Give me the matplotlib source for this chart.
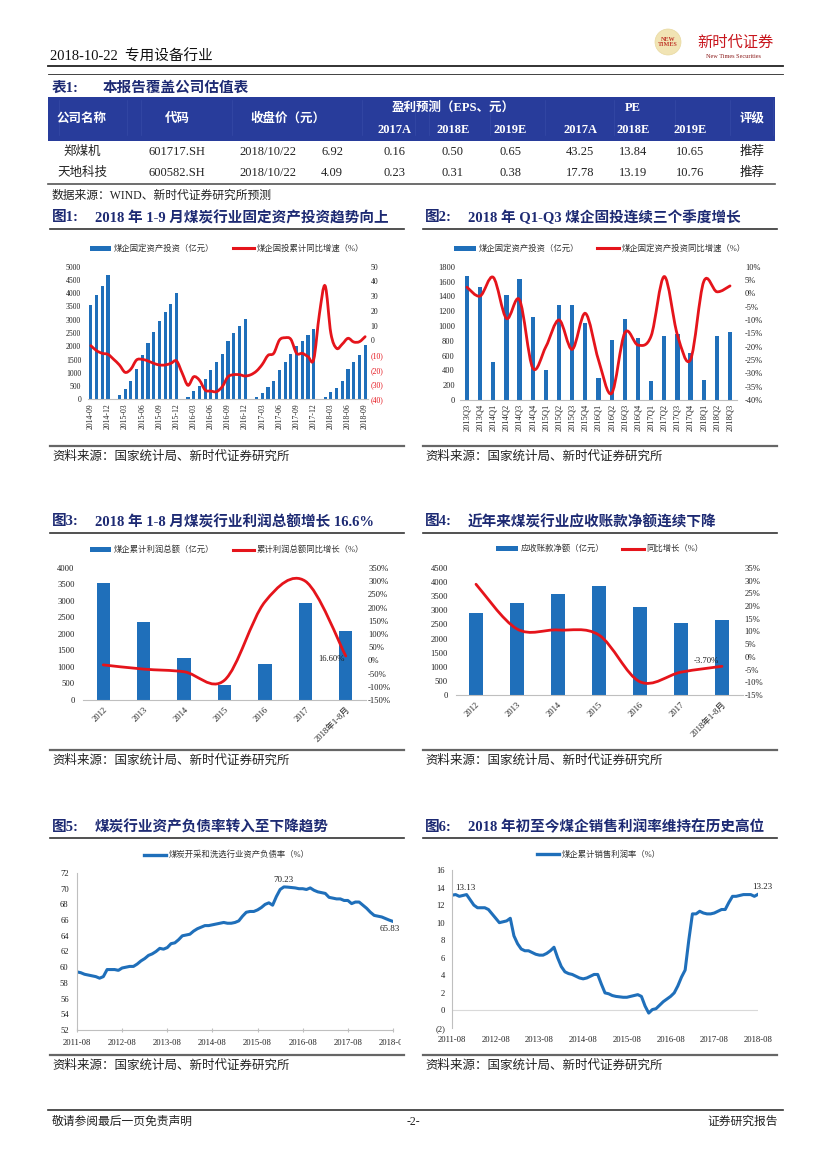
import numpy as np
import pandas as pd
import matplotlib.pyplot as plt
from matplotlib.path import Path
from matplotlib.patches import PathPatch, Patch, Rectangle, Circle
from matplotlib.lines import Line2D
from matplotlib.transforms import Bbox, TransformedBbox

plt.rcParams['font.family'] = ['Liberation Serif', 'Noto Sans CJK SC']

W, H = 827, 1169
BLUE = '#1F6FBA'
RED = '#E5141B'
NAVY = '#1D2A73'
HEAD_BLUE = '#283C9B'
AXIS_GRAY = '#BFBFBF'

# ---- table data ----
companies = ['郑煤机', '天地科技']
codes = ['601717.SH', '600582.SH']
price_dates = ['2018/10/22', '2018/10/22']
prices = [6.92, 4.09]
year_cols = ['2017A', '2018E', '2019E']
eps_values = [[0.16, 0.50, 0.65], [0.23, 0.31, 0.38]]
pe_values = [[43.25, 13.84, 10.65], [17.78, 13.19, 10.76]]
ratings = ['推荐', '推荐']

# ---- fig 1: monthly fixed asset investment ----
fig1_months = list(pd.date_range('2014-09', '2018-09', freq='MS').strftime('%Y-%m'))
fig1_invest = [3555, 3944, 4270, 4672, 0, 150, 402, 690, 1130, 1683, 2110, 2550, 2964, 3290, 3592, 3994,
               0, 75, 314, 515, 754, 1105, 1394, 1708, 2185, 2512, 2750, 3040,
               0, 75, 251, 452, 690, 1105, 1407, 1696, 2010, 2210, 2424, 2638,
               0, 100, 276, 427, 690, 1130, 1394, 1670, 2060]
fig1_growth = [-3.6, -7, -8.8, -9.5, -12.9, -16.7, -21.7, -19.5, -13.3, -12.9, -14, -15.6, -16.7, -16.7, -15.6, -14,
               -22.4, -30.5, -24.7, -27, -33.7, -34.4, -34.8, -31.4, -24.7, -23.3, -23.3, -24.2,
               -23.3, -20.8, -16.3, -10.2, -8.8, 0.2, 1.8, 0.7, -8.8, -8.8, -11, -12.9,
               18, 37, 4.8, -5.4, -2.5, 1.4, -1.1, -0.9, 2.5]

# ---- fig 2: quarterly ----
fig2_quarters = ['2013Q3', '2013Q4', '2014Q1', '2014Q2', '2014Q3', '2014Q4', '2015Q1', '2015Q2',
                 '2015Q3', '2015Q4', '2016Q1', '2016Q2', '2016Q3', '2016Q4', '2017Q1', '2017Q2',
                 '2017Q3', '2017Q4', '2018Q1', '2018Q2', '2018Q3']
fig2_invest = [1680, 1530, 508, 1422, 1629, 1120, 400, 1278, 1278, 1035, 300, 810, 1093, 837,
               256, 860, 895, 635, 265, 868, 918]
fig2_growth = [2.3, -1, 6, -9.4, -2.5, -28, -20, -10, -21, -7.5, -25, -37.5, -14.8, -19.4,
               -16, 6.3, -15.6, -24.8, 4.4, 0.6, 2.8]

# ---- fig 3 / fig 4: yearly ----
fig34_years = ['2012', '2013', '2014', '2015', '2016', '2017', '2018年1-8月']
fig3_profit = [3548, 2369, 1280, 444, 1089, 2953, 2076]
fig3_growth = [-17, -33, -43, -75, 222, 300, 16.6]
fig4_receivable = [2900, 3256, 3576, 3848, 3114, 2546, 2664]
fig4_growth = [28.6, 11.0, 10.6, 8.6, -9.8, -6.0, -3.7]

# ---- fig 5 / fig 6: monthly ratios ----
fig56_months = list(pd.date_range('2011-08', '2018-08', freq='MS').strftime('%Y-%m'))
fig5_debt = [59.4, 59.3, 59.1, 59.0, 58.9,
             58.8, 58.6, 58.8, 59.7, 59.7, 59.7, 59.6, 59.9, 60.0, 60.1, 60.1, 60.4,
             60.8, 61.1, 61.5, 61.7, 62.0, 62.4, 62.3, 62.5, 63.0, 63.1, 63.5, 64.0,
             64.1, 64.2, 64.6, 64.9, 65.1, 65.3, 65.3, 65.4, 65.5, 65.6, 65.7, 65.6,
             65.6, 65.7, 65.9, 66.5, 67.0, 67.1, 67.1, 67.3, 67.6, 68.0, 68.2, 67.9,
             69.0, 69.9, 70.23, 70.2, 70.15, 70.1, 70.0, 70.0, 69.9, 70.1, 69.8, 69.6,
             69.5, 69.4, 68.9, 68.8, 68.7, 68.7, 68.5, 68.5, 68.1, 68.3, 68.3, 67.9,
             67.5, 67.0, 66.6, 66.5, 66.4, 66.2, 66.0, 65.83]
fig6_margin = [13.13, 13.2, 13.0, 13.1, 13.2,
               12.6, 12.0, 11.7, 11.7, 11.7, 11.5, 11.0, 10.5, 10.0, 10.1, 10.2, 10.5,
               8.5, 7.6, 7.0, 6.8, 6.8, 6.6, 6.4, 6.3, 6.3, 6.5, 6.8, 7.2,
               6.0, 5.0, 4.4, 4.2, 4.1, 3.9, 3.7, 3.6, 3.7, 3.9, 4.1, 4.1,
               3.0, 2.0, 1.9, 1.7, 1.6, 1.55, 1.5, 1.5, 1.6, 1.7, 1.8, 1.6,
               0.5, -0.3, 0.1, 0.2, 0.6, 1.0, 1.3, 1.6, 2.0, 2.8, 3.8, 4.6,
               8.0, 11.0, 11.0, 11.3, 11.1, 11.0, 11.0, 11.1, 11.3, 11.5, 11.5, 12.3,
               13.0, 13.0, 13.1, 13.2, 13.2, 13.2, 13.0, 13.23]


def px(x0, y0, x1, y1):
    return [x0 / W, 1 - y1 / H, (x1 - x0) / W, (y1 - y0) / H]


def smooth_path(xs, ys):
    # Catmull-Rom style bezier through the data points (Excel "smoothed line")
    pts = np.column_stack([xs, ys]).astype(float)
    verts, codes_ = [pts[0]], [Path.MOVETO]
    n = len(pts)
    for i in range(n - 1):
        p0 = pts[i - 1] if i > 0 else pts[i]
        p1, p2 = pts[i], pts[i + 1]
        p3 = pts[i + 2] if i + 2 < n else pts[i + 1]
        verts += [p1 + (p2 - p0) / 6, p2 - (p3 - p1) / 6, p2]
        codes_ += [Path.CURVE4] * 3
    return Path(verts, codes_)


def style(ax, left=False, size=6):
    for s in ax.spines.values():
        s.set_visible(False)
    ax.spines['bottom'].set_visible(True)
    ax.spines['bottom'].set_color(AXIS_GRAY)
    ax.spines['bottom'].set_linewidth(0.8)
    if left:
        ax.spines['left'].set_visible(True)
        ax.spines['left'].set_color(AXIS_GRAY)
        ax.spines['left'].set_linewidth(0.8)
    ax.tick_params(length=0, labelsize=size, colors='#222')


def legend(handles, labels, cx, cy):
    fig.legend(handles, labels, loc='center', bbox_to_anchor=(cx / W, 1 - cy / H),
               ncol=len(labels), frameon=False, fontsize=6, handlelength=2.6,
               handleheight=0.6, columnspacing=2.2, handletextpad=0.3, borderpad=0,
               labelcolor='#333')


fig = plt.figure(figsize=(8.27, 11.69), dpi=100)
page = fig.add_axes([0, 0, 1, 1])
page.set_xlim(0, W)
page.set_ylim(H, 0)
page.axis('off')

# ---- page header ----
page.text(50, 57, '2018-10-22  专用设备行业', fontsize=10.5, va='center', color='#111')
page.plot([48, 783], [66, 66], color='#222', lw=1.3)
page.plot([48, 783], [74, 74], color='#222', lw=0.6)
page.add_patch(Circle((668, 42), 13, fc='#F1E4B4', ec='#E8D9A0', lw=0.5))
page.text(668, 42, 'NEW\nTIMES', fontsize=4.4, color='#C0392B', ha='center', va='center',
          fontweight='bold', linespacing=0.9)
page.text(735, 43, '新时代证券', fontsize=11, color='#C8161D', ha='center', va='center')
page.text(733, 57, 'New Times Securities', fontsize=4.5, color='#8B1A1A', ha='center', va='center')

# ---- valuation table ----
page.text(52, 88, '表1:', fontsize=10.5, fontweight='bold', color=NAVY, va='center')
page.text(103, 88, '本报告覆盖公司估值表', fontsize=10.5, fontweight='bold', color=NAVY, va='center')
page.add_patch(Rectangle((48, 97), 727, 44, fc=HEAD_BLUE, ec='none'))
for xs in [59, 127, 141, 232, 362, 415, 429, 490, 545, 614, 675, 730, 773]:
    page.plot([xs, xs], [100, 135], color='#3549A6', lw=0.5)

eps_x = [395, 453, 510]
pe_x = [580, 633, 690]
hdr = dict(fontsize=9, fontweight='bold', color='white', ha='center', va='center')
page.text(82, 119, '公司名称', **hdr)
page.text(177, 119, '代码', **hdr)
page.text(288, 119, '收盘价（元）', **hdr)
page.text(453, 108, '盈利预测（EPS、元）', **hdr)
page.text(633, 108, 'PE', **hdr)
page.text(752, 119, '评级', **hdr)
for i, yc in enumerate(year_cols):
    page.text(eps_x[i], 130, yc, **hdr)
    page.text(pe_x[i], 130, yc, **hdr)

cell = dict(fontsize=9, color='#222', va='center')
for r, y in enumerate([152, 173]):
    page.text(82, y, companies[r], ha='center', **cell)
    page.text(177, y, codes[r], ha='center', **cell)
    page.text(268, y, price_dates[r], ha='center', **cell)
    page.text(343, y, f'{prices[r]:.2f}', ha='right', **cell)
    for i in range(3):
        page.text(eps_x[i], y, f'{eps_values[r][i]:.2f}', ha='center', **cell)
        page.text(pe_x[i], y, f'{pe_values[r][i]:.2f}', ha='center', **cell)
    page.text(752, y, ratings[r], ha='center', **cell)
page.plot([48, 775], [184, 184], color='#555', lw=1.2)
page.text(52, 196, '数据来源：WIND、新时代证券研究所预测', fontsize=8.5, color='#222', va='center')

# ---- chart titles and source lines ----
titles = [
    (52, 95, 218, '图1:', '2018 年 1-9 月煤炭行业固定资产投资趋势向上'),
    (425, 468, 218, '图2:', '2018 年 Q1-Q3 煤企固投连续三个季度增长'),
    (52, 95, 522, '图3:', '2018 年 1-8 月煤炭行业利润总额增长 16.6%'),
    (425, 468, 522, '图4:', '近年来煤炭行业应收账款净额连续下降'),
    (52, 95, 827, '图5:', '煤炭行业资产负债率转入至下降趋势'),
    (425, 468, 827, '图6:', '2018 年初至今煤企销售利润率维持在历史高位'),
]
for x0, x1, y, tag, txt in titles:
    page.text(x0, y, tag, fontsize=10.5, fontweight='bold', color=NAVY, va='center')
    page.text(x1, y, txt, fontsize=10.5, fontweight='bold', color=NAVY, va='center')
    left = 50 if x0 < 400 else 423
    page.plot([left, left + 354], [y + 11, y + 11], color='#333', lw=1.2)
    page.plot([left, left + 354], [y + 228, y + 228], color='#666', lw=1.6)
    page.text(left + 2, y + 239, '资料来源：国家统计局、新时代证券研究所', fontsize=9, color='#222', va='center')

# ---- footer ----
page.plot([48, 783], [1110, 1110], color='#333', lw=1.2)
page.text(52, 1122, '敬请参阅最后一页免责声明', fontsize=8.5, color='#222', va='center')
page.text(413, 1122, '-2-', fontsize=8.5, color='#222', va='center', ha='center')
page.text(778, 1122, '证券研究报告', fontsize=8.5, color='#222', va='center', ha='right')

bar_h = Patch(facecolor=BLUE)
red_h = Line2D([], [], color=RED, lw=2.2)
blue_h = Line2D([], [], color=BLUE, lw=2.4)

# ---- chart 1 ----
ax = fig.add_axes(px(88, 266.7, 368, 399.3))
x = np.arange(len(fig1_months))
ax.bar(x, fig1_invest, width=0.55, color=BLUE)
ax.set_xlim(-0.5, len(x) - 0.5)
ax.set_ylim(0, 5000)
ax.set_yticks(range(0, 5001, 500))
ax.set_xticks(x[::3])
ax.set_xticklabels(fig1_months[::3], rotation=90, va='top')
style(ax, size=5.6)
ax.tick_params(axis='y', pad=5)
ax.tick_params(axis='x', pad=3)
ax2 = ax.twinx()
ax2.set_ylim(-40, 50)
r_ticks = list(range(-40, 51, 10))
ax2.set_yticks(r_ticks)
ax2.set_yticklabels([str(v) if v >= 0 else f'({-v})' for v in r_ticks])
for t, v in zip(ax2.get_yticklabels(), r_ticks):
    t.set_color(RED if v < 0 else '#222')
for s in ax2.spines.values():
    s.set_visible(False)
ax2.tick_params(length=0, labelsize=5.6, pad=2)
ax2.add_patch(PathPatch(smooth_path(x, fig1_growth), fill=False, ec=RED, lw=2, capstyle='round'))
legend([bar_h, red_h], ['煤企固定资产投资（亿元）', '煤企固投累计同比增速（%）'], 227, 249)

# ---- chart 2 ----
ax = fig.add_axes(px(460.4, 266.7, 736.6, 400))
x = np.arange(len(fig2_quarters))
ax.bar(x, fig2_invest, width=0.32, color=BLUE)
ax.set_xlim(-0.5, len(x) - 0.5)
ax.set_ylim(0, 1800)
ax.set_yticks(range(0, 1801, 200))
ax.set_xticks(x)
ax.set_xticklabels(fig2_quarters, rotation=90, va='top')
style(ax, size=6)
ax.tick_params(axis='y', pad=4)
ax.tick_params(axis='x', pad=3)
ax2 = ax.twinx()
ax2.set_ylim(-40, 10)
r_ticks = list(range(-40, 11, 5))
ax2.set_yticks(r_ticks)
ax2.set_yticklabels([f'{v}%' for v in r_ticks])
for s in ax2.spines.values():
    s.set_visible(False)
ax2.tick_params(length=0, labelsize=6, pad=6, colors='#222')
ax2.add_patch(PathPatch(smooth_path(x, fig2_growth), fill=False, ec=RED, lw=2, capstyle='round'))
legend([bar_h, red_h], ['煤企固定资产投资（亿元）', '煤企固定资产投资同比增速（%）'], 600, 249)

# ---- chart 3 ----
ax = fig.add_axes(px(83, 568, 366, 700))
x = np.arange(len(fig34_years))
ax.bar(x, fig3_profit, width=0.33, color=BLUE)
ax.set_xlim(-0.5, len(x) - 0.5)
ax.set_ylim(0, 4000)
ax.set_yticks(range(0, 4001, 500))
ax.set_xticks(x)
ax.set_xticklabels(fig34_years, rotation=45, ha='right', va='top', rotation_mode='anchor')
style(ax, size=6.2)
ax.tick_params(axis='y', pad=6)
ax.tick_params(axis='x', pad=4)
ax2 = ax.twinx()
ax2.set_ylim(-150, 350)
r_ticks = list(range(-150, 351, 50))
ax2.set_yticks(r_ticks)
ax2.set_yticklabels([f'{v}%' for v in r_ticks])
for s in ax2.spines.values():
    s.set_visible(False)
ax2.tick_params(length=0, labelsize=6.2, pad=1.5, colors='#222')
ax2.add_patch(PathPatch(smooth_path(x, fig3_growth), fill=False, ec=RED, lw=2, capstyle='round'))
ax2.annotate(f'{fig3_growth[-1]:.2f}%', (x[-1], fig3_growth[-1]), xytext=(-1, -2),
             textcoords='offset points', ha='right', va='center', fontsize=6.2, color='#222')
legend([bar_h, red_h], ['煤企累计利润总额（亿元）', '累计利润总额同比增长（%）'], 227, 550)

# ---- chart 4 ----
ax = fig.add_axes(px(455.5, 568, 742.5, 695))
ax.bar(x, fig4_receivable, width=0.32, color=BLUE)
ax.set_xlim(-0.5, len(x) - 0.5)
ax.set_ylim(0, 4500)
ax.set_yticks(range(0, 4501, 500))
ax.set_xticks(x)
ax.set_xticklabels(fig34_years, rotation=45, ha='right', va='top', rotation_mode='anchor')
style(ax, size=6.2)
ax.tick_params(axis='y', pad=5.5)
ax.tick_params(axis='x', pad=4)
ax2 = ax.twinx()
ax2.set_ylim(-15, 35)
r_ticks = list(range(-15, 36, 5))
ax2.set_yticks(r_ticks)
ax2.set_yticklabels([f'{v}%' for v in r_ticks])
for s in ax2.spines.values():
    s.set_visible(False)
ax2.tick_params(length=0, labelsize=6.2, pad=1.5, colors='#222')
ax2.add_patch(PathPatch(smooth_path(x, fig4_growth), fill=False, ec=RED, lw=2, capstyle='round'))
ax2.annotate(f'{fig4_growth[-1]:.2f}%', (x[-1], fig4_growth[-1]), xytext=(-11, 3.5),
             textcoords='offset points', ha='center', va='center', fontsize=6.2, color='#222')
legend([bar_h, red_h], ['应收账款净额（亿元）', '同比增长（%）'], 600, 549)

# ---- chart 5 ----
ax = fig.add_axes(px(77, 873, 393, 1030))
x = np.arange(len(fig56_months))
ax.plot(x, fig5_debt, color=BLUE, lw=2.2, solid_joinstyle='round')
ax.set_xlim(0, len(x) - 1)
ax.set_ylim(52, 72)
ax.set_yticks(range(52, 73, 2))
ax.set_xticks(x[::12])
ax.set_xticklabels(fig56_months[::12])
style(ax, left=True, size=6.2)
ax.tick_params(axis='x', length=3, direction='inout', color=AXIS_GRAY, pad=5)
ax.tick_params(axis='y', pad=6)
clip = TransformedBbox(Bbox([[0, 0], [401 / W, 1]]), fig.transFigure)
last = ax.get_xticklabels()[-1]
last.set_clip_box(clip)
last.set_clip_on(True)
ipk = int(np.argmax(fig5_debt))
ax.annotate(f'{fig5_debt[ipk]:.2f}', (x[ipk], fig5_debt[ipk]), xytext=(0, 2),
            textcoords='offset points', ha='center', va='bottom', fontsize=6.5, color='#222')
ax.annotate(f'{fig5_debt[-1]:.2f}', (x[-1], fig5_debt[-1]), xytext=(-2, -5.5),
            textcoords='offset points', ha='center', va='center', fontsize=6.5, color='#222')
legend([blue_h], ['煤炭开采和洗选行业资产负债率（%）'], 227, 855)

# ---- chart 6 ----
ax = fig.add_axes(px(452, 870, 758, 1028))
ax.plot(x, fig6_margin, color=BLUE, lw=2.2, solid_joinstyle='round')
ax.axhline(0, color='#D9D9D9', lw=0.8, zorder=0)
ax.set_xlim(0, len(x) - 1)
ax.set_ylim(-2, 16)
l_ticks = list(range(-2, 17, 2))
ax.set_yticks(l_ticks)
ax.set_yticklabels([f'({-v})' if v < 0 else str(v) for v in l_ticks])
for t, v in zip(ax.get_yticklabels(), l_ticks):
    t.set_color(RED if v < 0 else '#222')
ax.set_xticks(x[::12])
ax.set_xticklabels(fig56_months[::12])
style(ax, left=True, size=6.2)
ax.spines['bottom'].set_visible(False)
ax.tick_params(axis='x', pad=6)
ax.tick_params(axis='y', pad=5)
ax.annotate(f'{fig6_margin[0]:.2f}', (x[0], fig6_margin[0]), xytext=(9.5, 5.5),
            textcoords='offset points', ha='center', va='center', fontsize=6.5, color='#222')
ax.annotate(f'{fig6_margin[-1]:.2f}', (x[-1], fig6_margin[-1]), xytext=(3, 5),
            textcoords='offset points', ha='center', va='center', fontsize=6.5, color='#222')
legend([blue_h], ['煤企累计销售利润率（%）'], 599, 855)

fig.savefig('out.png', dpi=100)
